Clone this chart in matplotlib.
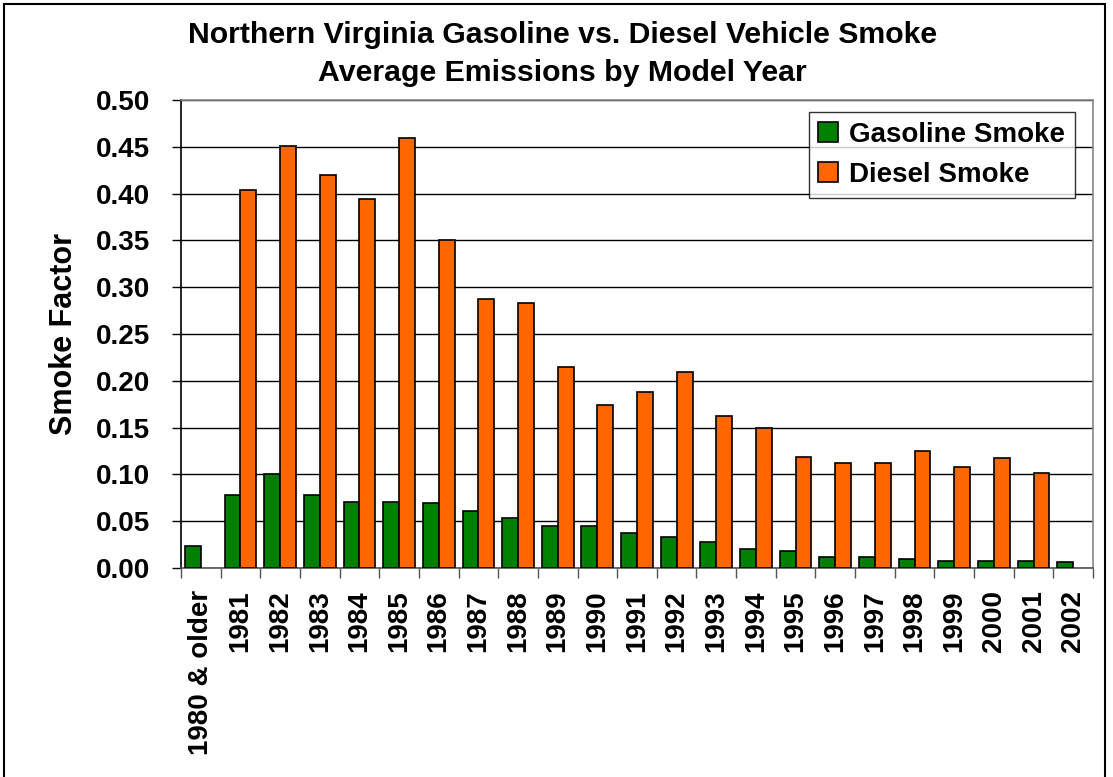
import numpy as np
import matplotlib
matplotlib.use("Agg")
import matplotlib.pyplot as plt
from matplotlib.patches import Rectangle

plt.rcParams['font.family'] = ['Liberation Sans', 'DejaVu Sans']

# data
years = ['1980 & older', '1981', '1982', '1983', '1984', '1985', '1986', '1987',
         '1988', '1989', '1990', '1991', '1992', '1993', '1994', '1995', '1996',
         '1997', '1998', '1999', '2000', '2001', '2002']
gasoline = [0.024, 0.078, 0.100, 0.078, 0.071, 0.071, 0.069, 0.061,
            0.053, 0.045, 0.045, 0.037, 0.033, 0.028, 0.020, 0.018, 0.012,
            0.012, 0.010, 0.008, 0.008, 0.008, 0.006]
diesel = [np.nan, 0.404, 0.451, 0.420, 0.394, 0.459, 0.350, 0.287,
          0.283, 0.215, 0.174, 0.188, 0.209, 0.162, 0.150, 0.119, 0.112,
          0.112, 0.125, 0.108, 0.118, 0.102, np.nan]

fig = plt.figure(figsize=(11.13, 7.77), dpi=100)
ax = fig.add_axes([181 / 1113, 1 - 568 / 777, (1093 - 181) / 1113, (568 - 100) / 777])

x = np.arange(len(years))
w = 0.4
ax.bar(x - w / 2, gasoline, w, color='#008000', edgecolor='black', linewidth=1.2,
       label='Gasoline Smoke', zorder=3)
ax.bar(x + w / 2, diesel, w, color='#FF6600', edgecolor='black', linewidth=1.2,
       label='Diesel Smoke', zorder=3)

ax.set_xlim(-0.5, len(years) - 0.5)
ax.set_ylim(0, 0.5)
ax.set_yticks(np.arange(0, 0.501, 0.05))
ax.set_yticklabels([f'{v:.2f}' for v in np.arange(0, 0.501, 0.05)],
                   fontsize=20, fontweight='bold')
ax.yaxis.grid(True, color='black', linewidth=1.0, zorder=0)
ax.tick_params(axis='y', direction='out', length=6.5, width=1, pad=16)

ax.set_xticks(x)
ax.set_xticklabels(years, rotation=90, fontsize=20, fontweight='bold', va='top')
ax.tick_params(axis='x', which='major', length=0, pad=16)
ax.set_xticks(np.arange(-0.5, len(years), 1), minor=True)
ax.tick_params(axis='x', which='minor', direction='out', length=7, width=1, color='#555555')

ax.spines['top'].set_color('#888888')
ax.spines['right'].set_color('#888888')
ax.spines['left'].set_color('black')
ax.spines['bottom'].set_color('#555555')
for s in ax.spines.values():
    s.set_linewidth(1.2)

ax.set_ylabel('Smoke Factor', fontsize=22, fontweight='bold', labelpad=12)

leg = ax.legend(loc='upper right', bbox_to_anchor=(0.980, 0.974), borderaxespad=0,
                prop={'weight': 'bold', 'size': 20}, frameon=True, fancybox=False,
                edgecolor='black', handlelength=0.7, handleheight=0.7,
                handletextpad=0.4, borderpad=0.35, labelspacing=0.5)
leg.get_frame().set_linewidth(1.0)

fig.text(0.505, 0.955, 'Northern Virginia Gasoline vs. Diesel Vehicle Smoke',
         ha='center', va='center', fontsize=21.8, fontweight='bold')
fig.text(0.505, 0.906, 'Average Emissions by Model Year',
         ha='center', va='center', fontsize=21.8, fontweight='bold')

# outer chart border
fig.patches.append(Rectangle((4 / 1113, -0.01), (1105 - 4) / 1113, 1 - 4 / 777 + 0.01,
                             transform=fig.transFigure, fill=False,
                             edgecolor='black', linewidth=1.5))

fig.savefig('out.png', dpi=100)
